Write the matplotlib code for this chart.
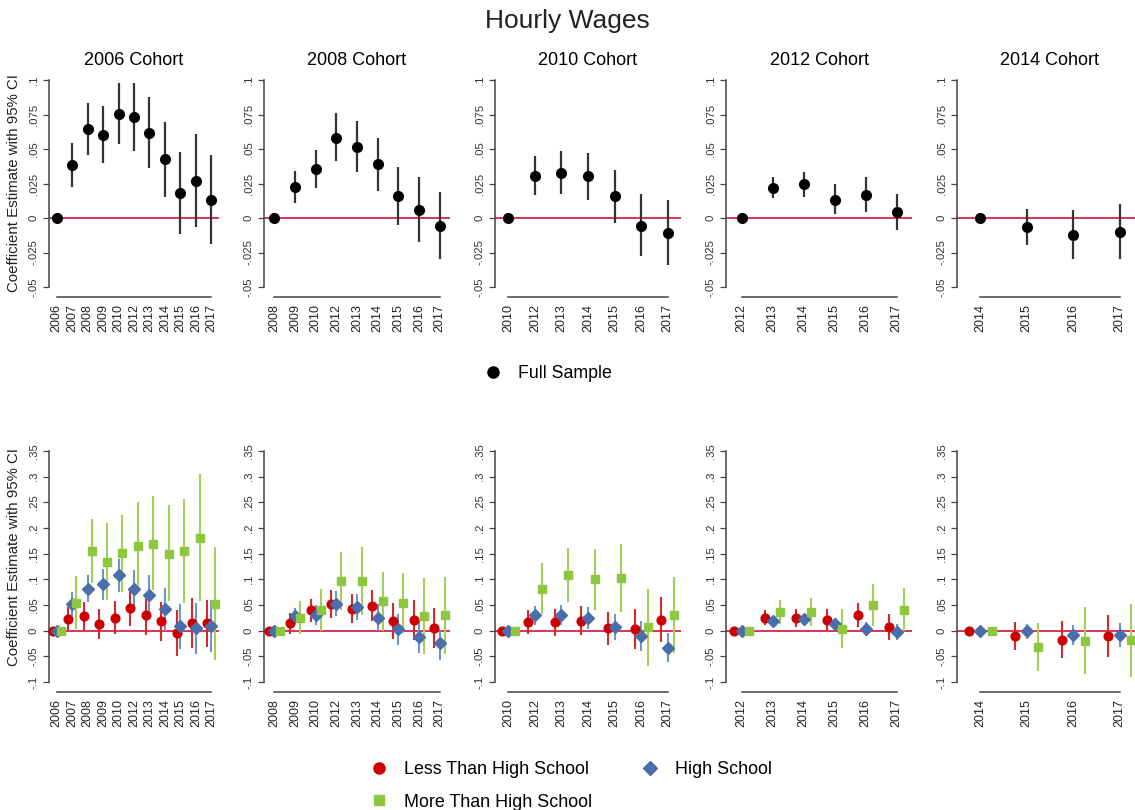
import matplotlib.pyplot as plt
from matplotlib.lines import Line2D

plt.rcParams['font.family'] = ['Liberation Sans', 'DejaVu Sans']

# ---- data ----
cohorts = ["2006 Cohort", "2008 Cohort", "2010 Cohort", "2012 Cohort", "2014 Cohort"]
years = [
    ["2006", "2007", "2008", "2009", "2010", "2012", "2013", "2014", "2015", "2016", "2017"],
    ["2008", "2009", "2010", "2012", "2013", "2014", "2015", "2016", "2017"],
    ["2010", "2012", "2013", "2014", "2015", "2016", "2017"],
    ["2012", "2013", "2014", "2015", "2016", "2017"],
    ["2014", "2015", "2016", "2017"],
]

# full sample
full_est = [
    [0, .0383, .0648, .0605, .0757, .0733, .0617, .0424, .0178, .027, .0133],
    [0, .0224, .0354, .0583, .0518, .039, .0161, .006, -.0058],
    [0, .0306, .0328, .0301, .0157, -.0055, -.0108],
    [0, .0219, .0243, .0133, .0166, .0043],
    [0, -.0067, -.012, -.0101],
]
full_lo = [
    [0, .0224, .046, .0398, .0535, .0487, .0361, .0152, -.0116, -.0067, -.0188],
    [0, .0108, .0214, .041, .0333, .0198, -.0048, -.0173, -.0294],
    [0, .0166, .0176, .0133, -.0036, -.0277, -.034],
    [0, .0145, .0152, .0027, .0041, -.0089],
    [0, -.0198, -.0299, -.0299],
]
full_hi = [
    [0, .0542, .0836, .0814, .098, .0976, .088, .0699, .0477, .061, .046],
    [0, .0342, .0494, .0759, .0706, .0583, .0373, .0296, .0186],
    [0, .045, .0487, .047, .0349, .0173, .0128],
    [0, .0296, .0335, .0248, .0296, .0176],
    [0, .0065, .0058, .0099],
]

# less than high school
lhs_est = [
    [0, .022, .028, .0136, .0247, .0435, .030, .018, -.004, .0156, .015],
    [0, .0143, .040, .052, .043, .049, .0195, .020, .006],
    [0, .017, .016, .0195, .0045, .004, .0214],
    [0, .0247, .0247, .0208, .0305, .0065],
    [0, -.0104, -.0175, -.0097],
]
lhs_lo = [
    [0, -.001, 0, -.0156, -.007, .009, -.008, -.020, -.049, -.034, -.032],
    [0, -.006, .0175, .025, .015, .019, -.016, -.0175, -.034],
    [0, -.006, -.010, -.0085, -.0286, -.036, -.0214],
    [0, .0104, .007, -.001, .0065, -.019],
    [0, -.038, -.054, -.0506],
]
lhs_hi = [
    [0, .046, .055, .043, .058, .080, .067, .055, .040, .064, .060],
    [0, .034, .062, .079, .071, .079, .0545, .059, .045],
    [0, .040, .042, .048, .037, .043, .065],
    [0, .040, .042, .043, .0545, .0325],
    [0, .017, .0195, .030],
]

# high school
hs_est = [
    [0, .051, .082, .090, .108, .082, .069, .042, .0084, .005, .009],
    [0, .0286, .031, .0526, .046, .025, .0026, -.013, -.024],
    [0, .031, .0305, .0247, .007, -.0104, -.033],
    [0, .018, .022, .0123, .0032, -.0032],
    [0, -.0006, -.0084, -.0078],
]
hs_lo = [
    [0, .029, .055, .059, .075, .046, .031, 0, -.036, -.045, -.042],
    [0, .0136, .012, .028, .021, -.001, -.027, -.0435, -.057],
    [0, .012, .0104, .0026, -.018, -.039, -.062],
    [0, .009, .012, .0006, -.011, -.0175],
    [0, -.0156, -.0286, -.032],
]
hs_hi = [
    [0, .075, .109, .121, .140, .118, .108, .083, .051, .054, .059],
    [0, .045, .050, .077, .071, .0526, .032, .019, 0],
    [0, .049, .0506, .047, .032, .018, -.004],
    [0, .0266, .032, .0247, .017, .0123],
    [0, .0136, .0117, .0156],
]

# more than high school
mhs_est = [
    [0, .0545, .1545, .134, .151, .165, .169, .149, .156, .180, .052],
    [0, .024, .041, .096, .097, .058, .053, .0286, .030],
    [0, .082, .108, .100, .1026, .0065, .030],
    [0, .036, .036, .0032, .050, .041],
    [0, -.032, -.0195, -.018],
]
mhs_lo = [
    [0, .003, .092, .060, .076, .080, .080, .057, .054, .057, -.058],
    [0, -.007, 0, .040, .031, 0, -.005, -.045, -.045],
    [0, .0325, .055, .040, .036, -.068, -.044],
    [0, .0136, .0097, -.034, .0084, 0],
    [0, -.079, -.084, -.090],
]
mhs_hi = [
    [0, .106, .218, .210, .226, .251, .262, .244, .2565, .305, .163],
    [0, .058, .082, .1526, .1636, .115, .113, .1026, .105],
    [0, .132, .162, .160, .169, .081, .1045],
    [0, .059, .0636, .0416, .0916, .0825],
    [0, .0156, .0455, .0526],
]

top_ticks = [-.05, -.025, 0, .025, .05, .075, .1]
top_labels = ["-.05", "-.025", "0", ".025", ".05", ".075", ".1"]
bot_ticks = [-.1, -.05, 0, .05, .1, .15, .2, .25, .3, .35]
bot_labels = ["-.1", "-.05", "0", ".05", ".1", ".15", ".2", ".25", ".3", ".35"]

# ---- styling ----
W, H = 1135, 810
AXIS = '#444444'
ZERO = '#d4103c'
RED, RED_L = '#cc0000', '#d42a2a'
BLUE, BLUE_L = '#4a6eab', '#7093c8'
GREEN, GREEN_L = '#8dc63f', '#a4ce5a'

lefts = [49, 264, 495, 726, 957]
rights = [219, 450, 681, 912, 1143]

fig = plt.figure(figsize=(W / 100, H / 100), dpi=100)


def px_axes(left, right, top, bottom):
    return fig.add_axes([left / W, 1 - bottom / H, (right - left) / W, (bottom - top) / H])


def style(ax, labels, ticks, ticklabels):
    n = len(labels)
    ax.set_xlim(-0.5, n - 0.5)
    ax.set_ylim(ticks[0], ticks[-1])
    for s in ['top', 'right']:
        ax.spines[s].set_visible(False)
    ax.spines['bottom'].set_position(('outward', 7))
    ax.spines['bottom'].set_bounds(0, n - 1)
    for s in ['left', 'bottom']:
        ax.spines[s].set_color(AXIS)
        ax.spines[s].set_linewidth(1.1)
    ax.set_xticks(range(n))
    ax.set_xticklabels(labels, rotation=90, fontsize=9, color='#222222')
    ax.tick_params(axis='x', length=0, pad=5)
    ax.set_yticks(ticks)
    ax.set_yticklabels(ticklabels, rotation=90, va='center', fontsize=8.2, color='#333333')
    ax.tick_params(axis='y', length=4, width=0.9, color=AXIS, pad=3.5)
    ax.axhline(0, color=ZERO, lw=1.2, zorder=1)


for i in range(5):
    x = list(range(len(years[i])))

    # top row: full sample
    ax = px_axes(lefts[i], rights[i], 80, 287)
    style(ax, years[i], top_ticks, top_labels)
    ax.vlines(x, full_lo[i], full_hi[i], color='#333333', lw=1.6, zorder=2)
    ax.plot(x, full_est[i], 'o', color='black', ms=7, zorder=3, clip_on=False)
    ax.set_title(cohorts[i], fontsize=13, pad=11)
    if i == 0:
        ax.set_ylabel("Coefficient Estimate with 95% CI", fontsize=10.8, color='#222222')
        ax.yaxis.set_label_coords(-0.165, 0.5)

    # bottom row: by education
    ax = px_axes(lefts[i], rights[i], 451, 682)
    style(ax, years[i], bot_ticks, bot_labels)
    xr = [v - 0.25 for v in x]
    xg = [v + 0.25 for v in x]
    ax.vlines(xr, lhs_lo[i], lhs_hi[i], color=RED_L, lw=1.5, zorder=2)
    ax.vlines(x, hs_lo[i], hs_hi[i], color=BLUE_L, lw=1.5, zorder=2)
    ax.vlines(xg, mhs_lo[i], mhs_hi[i], color=GREEN_L, lw=1.5, zorder=2)
    ax.plot(xr, lhs_est[i], 'o', color=RED, ms=6.3, zorder=3, clip_on=False)
    ax.plot(x, hs_est[i], 'D', color=BLUE, ms=6.3, zorder=3, clip_on=False)
    ax.plot(xg, mhs_est[i], 's', color=GREEN, ms=6.3, zorder=3, clip_on=False)
    if i == 0:
        ax.set_ylabel("Coefficient Estimate with 95% CI", fontsize=10.8, color='#222222')
        ax.yaxis.set_label_coords(-0.165, 0.54)

fig.text(0.5, 1 - 21 / H, "Hourly Wages", ha='center', va='center', fontsize=19, color='#222222')

# legends
full_handle = Line2D([], [], marker='o', color='black', ls='none', ms=8)
fig.legend([full_handle], ["Full Sample"], loc='center left',
           bbox_to_anchor=(484 / W, 1 - 374 / H), frameon=False, fontsize=12.8,
           handlelength=1, handletextpad=0.9, borderpad=0, borderaxespad=0)

edu_handles = [
    Line2D([], [], marker='o', color=RED, ls='none', ms=8),
    Line2D([], [], marker='s', color=GREEN, ls='none', ms=7),
    Line2D([], [], marker='D', color=BLUE, ls='none', ms=7),
]
edu_labels = ["Less Than High School", "More Than High School", "High School"]
fig.legend(edu_handles, edu_labels, loc='center left', ncol=2,
           bbox_to_anchor=(370 / W, 1 - 786 / H), frameon=False, fontsize=12.9,
           handlelength=1, handletextpad=0.9, borderpad=0, borderaxespad=0,
           columnspacing=2.7, labelspacing=0.85)

fig.savefig("out.png", dpi=100)
